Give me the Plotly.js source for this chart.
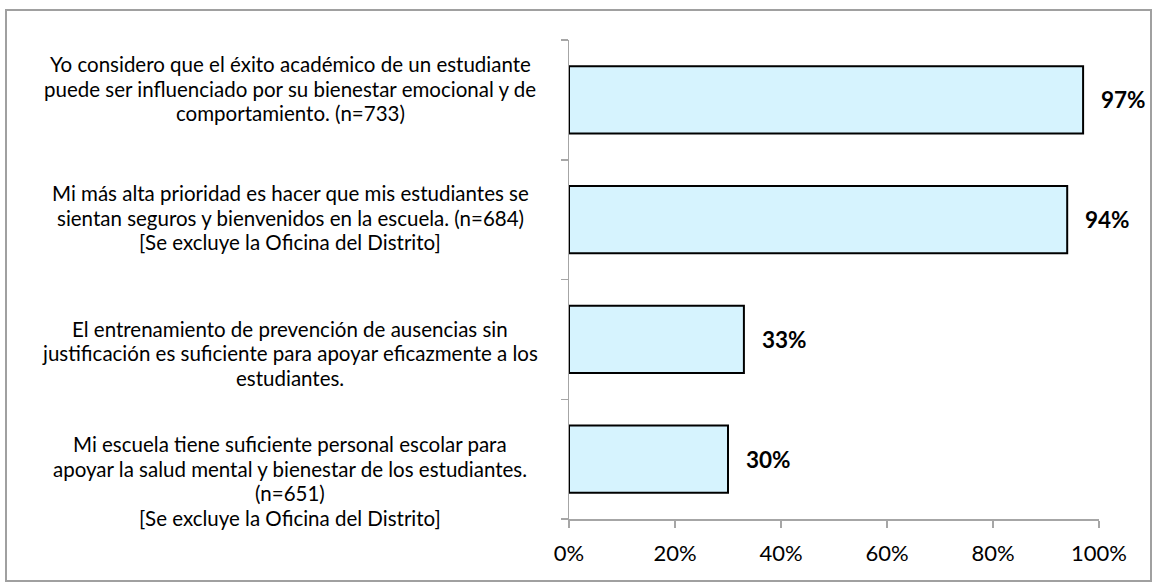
<!DOCTYPE html>
<html>
<head>
<meta charset="utf-8">
<script src="https://cdn.plot.ly/plotly-3.0.1.min.js"></script>
<style>
  html, body { margin: 0; padding: 0; background: #ffffff; }
  #chart { width: 1153px; height: 583px; }
</style>
</head>
<body>
<div id="chart"></div>
<script>
// ---- Data ----
const categories = [
  "Yo considero que el éxito académico de un estudiante<br>puede ser influenciado por su bienestar emocional y de<br>comportamiento. (n=733)",
  "Mi más alta prioridad es hacer que mis estudiantes se<br>sientan seguros y bienvenidos en la escuela. (n=684)<br>[Se excluye la Oficina del Distrito]",
  "El entrenamiento de prevención de ausencias sin<br>justificación es suficiente para apoyar eficazmente a los<br>estudiantes.",
  "Mi escuela tiene suficiente personal escolar para<br>apoyar la salud mental y bienestar de los estudiantes.<br>(n=651)<br>[Se excluye la Oficina del Distrito]"
];
const values = [97, 94, 33, 30];
const valueLabels = ["97%", "94%", "33%", "30%"];
const xTickVals = [0, 20, 40, 60, 80, 100];
const xTickText = ["0%", "20%", "40%", "60%", "80%", "100%"];

// ---- Styling ----
const FONT = "Lato, 'Open Sans', sans-serif";
const labelShift = [-11, -2, 14, 22];   // vertical offsets of category label blocks (px)
const lineGap = 24.5;

const idx = categories.map((_, i) => i);

const trace = {
  type: "bar",
  orientation: "h",
  y: idx,
  x: values,
  marker: { color: "#D6F3FE", line: { color: "#000000", width: 2 } },
  hoverinfo: "skip"
};

const annotations = [];
categories.forEach((lab, i) => {
  const lines = lab.split("<br>");
  const n = lines.length;
  lines.forEach((ln, j) => {
    annotations.push({
      xref: "paper", yref: "y",
      x: -0.526, y: i,
      xanchor: "center", yanchor: "middle",
      text: ln, showarrow: false,
      yshift: -((j - (n - 1) / 2) * lineGap + labelShift[i]),
      font: { family: FONT, size: 20.5, color: "#000000" }
    });
  });
  annotations.push({
    xref: "x", yref: "y",
    x: values[i], y: i,
    xanchor: "left", yanchor: "middle",
    xshift: 16,
    text: "<b>" + valueLabels[i] + "</b>",
    showarrow: false,
    font: { family: FONT, size: 22.5, color: "#000000" }
  });
});

const layout = {
  width: 1153, height: 583,
  margin: { l: 569, r: 54, t: 40, b: 64, pad: 0 },
  paper_bgcolor: "#ffffff",
  plot_bgcolor: "#ffffff",
  showlegend: false,
  bargap: 0.44,
  xaxis: {
    range: [0, 100],
    tickvals: xTickVals, ticktext: xTickText,
    ticks: "outside", ticklen: 7, tickcolor: "#A6A6A6", tickwidth: 1.5,
    showline: true, linecolor: "#A6A6A6", linewidth: 1.5,
    showgrid: false, zeroline: false,
    ticklabelstandoff: 7,
    tickfont: { family: FONT, size: 22, color: "#000000" },
    fixedrange: true
  },
  yaxis: {
    range: [3.5, -0.5],
    tickvals: [-0.5, 0.5, 1.5, 2.5, 3.5],
    showticklabels: false,
    ticks: "outside", ticklen: 7, tickcolor: "#A6A6A6", tickwidth: 1.5,
    showline: true, linecolor: "#A6A6A6", linewidth: 1.5,
    showgrid: false, zeroline: false,
    fixedrange: true
  },
  annotations: annotations,
  shapes: [{
    type: "rect", xref: "paper", yref: "paper",
    x0: (6 - 569) / 530, x1: (1151 - 569) / 530,
    y0: (519 - 581) / 479, y1: (519 - 10) / 479,
    line: { color: "#A0A0A0", width: 2 }, fillcolor: "rgba(0,0,0,0)",
    layer: "below"
  }]
};

Plotly.newPlot("chart", [trace], layout, { displayModeBar: false, staticPlot: true });
</script>
</body>
</html>
